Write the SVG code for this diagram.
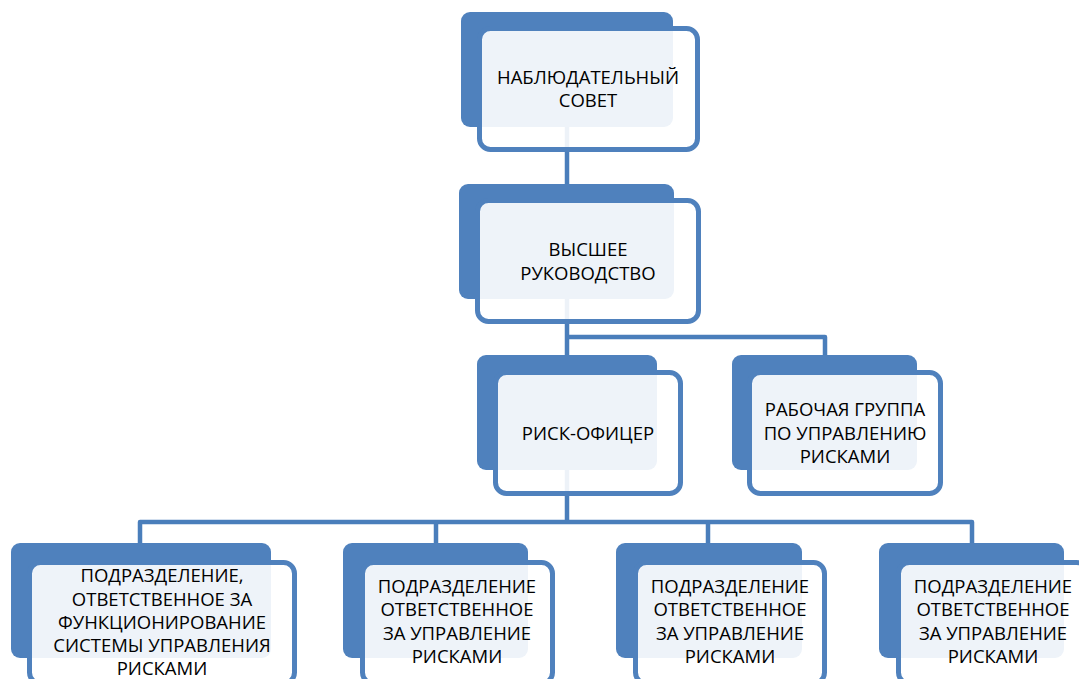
<svg xmlns="http://www.w3.org/2000/svg" width="1079" height="679" viewBox="0 0 1079 679">
<style>
.back{fill:#4F81BD}
.front{fill:#FFFFFF;fill-opacity:0.9;stroke:#4F81BD;stroke-width:5}
.conn{fill:none;stroke:#4A7EBB;stroke-width:4.5;stroke-linejoin:round}
text{font-family:"Open Sans","Liberation Sans",sans-serif;font-size:18.5px;fill:#000;text-anchor:middle}
</style>
<rect width="1079" height="679" fill="#FFFFFF"/>
<g id="connectors">
<path class="conn" d="M567,127 V184"/>
<path class="conn" d="M567,299 V355"/>
<path class="conn" d="M567,337 H825 V355"/>
<path class="conn" d="M567,470 V522"/>
<path class="conn" d="M140,543 V522 H972 V543"/>
<path class="conn" d="M436,522 V543"/>
<path class="conn" d="M708,522 V543"/>
</g>
<g id="node-nabl">
<rect class="back" x="461" y="12" width="212" height="115" rx="9"/>
<rect class="front" x="479.5" y="28.5" width="218" height="121" rx="11"/>
<text x="588" y="84">НАБЛЮДАТЕЛЬНЫЙ</text>
<text x="588" y="107">СОВЕТ</text>
</g>
<g id="node-vyssh">
<rect class="back" x="459" y="184" width="215" height="115" rx="9"/>
<rect class="front" x="477.5" y="200.5" width="221" height="121" rx="11"/>
<text x="588" y="256">ВЫСШЕЕ</text>
<text x="588" y="280">РУКОВОДСТВО</text>
</g>
<g id="node-risk">
<rect class="back" x="477" y="355" width="180" height="115" rx="9"/>
<rect class="front" x="495.5" y="372.5" width="185" height="121" rx="11"/>
<text x="588" y="440">РИСК-ОФИЦЕР</text>
</g>
<g id="node-group">
<rect class="back" x="732" y="355" width="185" height="115" rx="9"/>
<rect class="front" x="749.5" y="372.5" width="191" height="121" rx="11"/>
<text x="845" y="416">РАБОЧАЯ ГРУППА</text>
<text x="845" y="440">ПО УПРАВЛЕНИЮ</text>
<text x="845" y="463">РИСКАМИ</text>
</g>
<g id="node-a">
<rect class="back" x="11" y="543" width="260" height="115" rx="9"/>
<rect class="front" x="29.5" y="562.5" width="265" height="121" rx="11"/>
<text x="162" y="582">ПОДРАЗДЕЛЕНИЕ,</text>
<text x="162" y="606">ОТВЕТСТВЕННОЕ ЗА</text>
<text x="162" y="629">ФУНКЦИОНИРОВАНИЕ</text>
<text x="162" y="652">СИСТЕМЫ УПРАВЛЕНИЯ</text>
<text x="162" y="675">РИСКАМИ</text>
</g>
<g id="node-b">
<rect class="back" x="343" y="543" width="185" height="115" rx="9"/>
<rect class="front" x="362.5" y="562.5" width="190" height="121" rx="11"/>
<text x="457" y="593">ПОДРАЗДЕЛЕНИЕ</text>
<text x="457" y="616">ОТВЕТСТВЕННОЕ</text>
<text x="457" y="640">ЗА УПРАВЛЕНИЕ</text>
<text x="457" y="663">РИСКАМИ</text>
</g>
<g id="node-c">
<rect class="back" x="616" y="543" width="186" height="115" rx="9"/>
<rect class="front" x="635.5" y="562.5" width="189" height="121" rx="11"/>
<text x="730" y="593">ПОДРАЗДЕЛЕНИЕ</text>
<text x="730" y="616">ОТВЕТСТВЕННОЕ</text>
<text x="730" y="640">ЗА УПРАВЛЕНИЕ</text>
<text x="730" y="663">РИСКАМИ</text>
</g>
<g id="node-d">
<rect class="back" x="879" y="543" width="185" height="115" rx="9"/>
<rect class="front" x="898.5" y="562.5" width="189" height="121" rx="11"/>
<text x="993" y="593">ПОДРАЗДЕЛЕНИЕ</text>
<text x="993" y="616">ОТВЕТСТВЕННОЕ</text>
<text x="993" y="640">ЗА УПРАВЛЕНИЕ</text>
<text x="993" y="663">РИСКАМИ</text>
</g>
</svg>
